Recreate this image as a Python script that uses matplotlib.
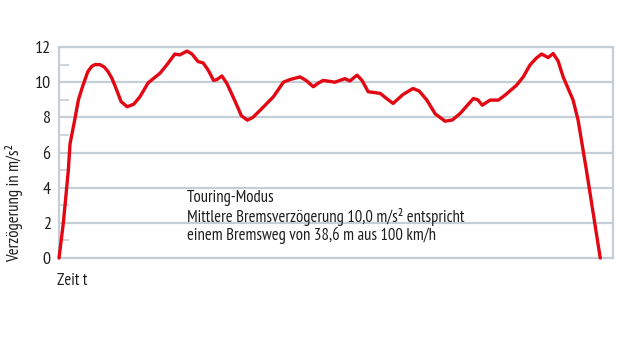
import matplotlib
matplotlib.use('Agg')
import matplotlib.pyplot as plt

# time (arbitrary units 0..100) and deceleration in m/s^2
zeit = [0, 0.78, 1.68, 1.99, 2.8, 3.5, 4.3, 5.2, 5.9, 6.5, 7.4, 8.2, 8.85, 9.5,
        10.1, 11.2, 12.3, 13.5,
        14.6, 16.1, 18.2, 19.5, 20.9, 21.8, 23.1, 24.0, 25.1, 26.0, 26.9, 27.9,
        28.5, 29.4, 30.3, 31.8, 32.9, 34.0, 35.0, 36.3, 38.7, 40.5, 41.7, 43.5,
        44.6, 45.9, 46.8, 47.7, 49.8, 51.6, 52.5, 53.8, 54.7, 55.8, 58.0, 59.0,
        60.3, 62.1, 63.9, 65.0, 66.4, 67.9, 69.7, 71.0, 72.4, 74.8, 75.6, 76.4,
        77.8, 79.3, 80.5, 82.6, 83.8, 85.0, 86.1, 87.1, 88.3, 89.2, 90.1, 91.0,
        92.8, 93.7, 95.2, 97.7]
verz = [0, 2.0, 5.0, 6.5, 7.8, 9.0, 9.8, 10.6, 10.9, 11.0, 11.0, 10.85, 10.6, 10.25,
        9.8, 8.9, 8.6, 8.75,
        9.17, 9.97, 10.5, 11.0, 11.6, 11.55, 11.77, 11.6, 11.17, 11.1, 10.7, 10.1,
        10.15, 10.35, 9.93, 8.9, 8.1, 7.84, 8.0, 8.4, 9.17, 10.0, 10.15, 10.3,
        10.1, 9.74, 9.95, 10.1, 10.0, 10.2, 10.07, 10.4, 10.1, 9.46, 9.36, 9.1,
        8.79, 9.3, 9.64, 9.5, 8.98, 8.2, 7.78, 7.85, 8.22, 9.07, 9.0, 8.69,
        8.98, 8.98, 9.26, 9.83, 10.3, 10.97, 11.35, 11.6, 11.4, 11.63, 11.2, 10.3,
        8.98, 7.84, 5.0, 0]

y_ticks = [0, 2, 4, 6, 8, 10, 12]
y_minor = [1, 3, 5, 7, 9, 11]

info = ['Touring-Modus',
        'Mittlere Bremsverzögerung 10,0 m/s² entspricht',
        'einem Bremsweg von 38,6 m aus 100 km/h']

plt.rcParams['font.family'] = ['PT Sans Narrow', 'Roboto Condensed',
                               'Liberation Sans Narrow', 'DejaVu Sans']
grid_col = '#c3ced7'
txt_col = '#1e1e1e'

fig = plt.figure(figsize=(6.2, 3.49), dpi=100)
ax = fig.add_axes([0.0952, 0.2607, 0.8935, 0.6046])

ax.plot(zeit, verz, color='#e30613', linewidth=2.4, clip_on=False, zorder=5,
        solid_joinstyle='round', solid_capstyle='round')

ax.set_xlim(0, 100)
ax.set_ylim(0, 12)
ax.set_xticks([])
ax.set_yticks(y_ticks)
ax.set_yticks(y_minor, minor=True)
ax.grid(axis='y', which='major', color=grid_col, linewidth=1.6)
ax.tick_params(axis='y', which='major', length=0, pad=6, labelsize=13,
               labelcolor=txt_col)
ax.tick_params(axis='y', which='minor', direction='in', length=7,
               width=1.2, color=grid_col)
for s in ax.spines.values():
    s.set_color(grid_col)
    s.set_linewidth(1.6)

fig.text(14 / 620, 1 - 262 / 349, 'Verzögerung in m/s²', rotation=90,
         ha='center', va='bottom', fontsize=12, color=txt_col)
fig.text(57 / 620, 1 - 281 / 349, 'Zeit t', ha='left', va='center',
         fontsize=12, color=txt_col)

for i, line in enumerate(info):
    fig.text(187 / 620, 1 - (198 + i * 18.5) / 349, line, ha='left',
             va='center', fontsize=12, color=txt_col)

fig.savefig('out.png', dpi=100)
